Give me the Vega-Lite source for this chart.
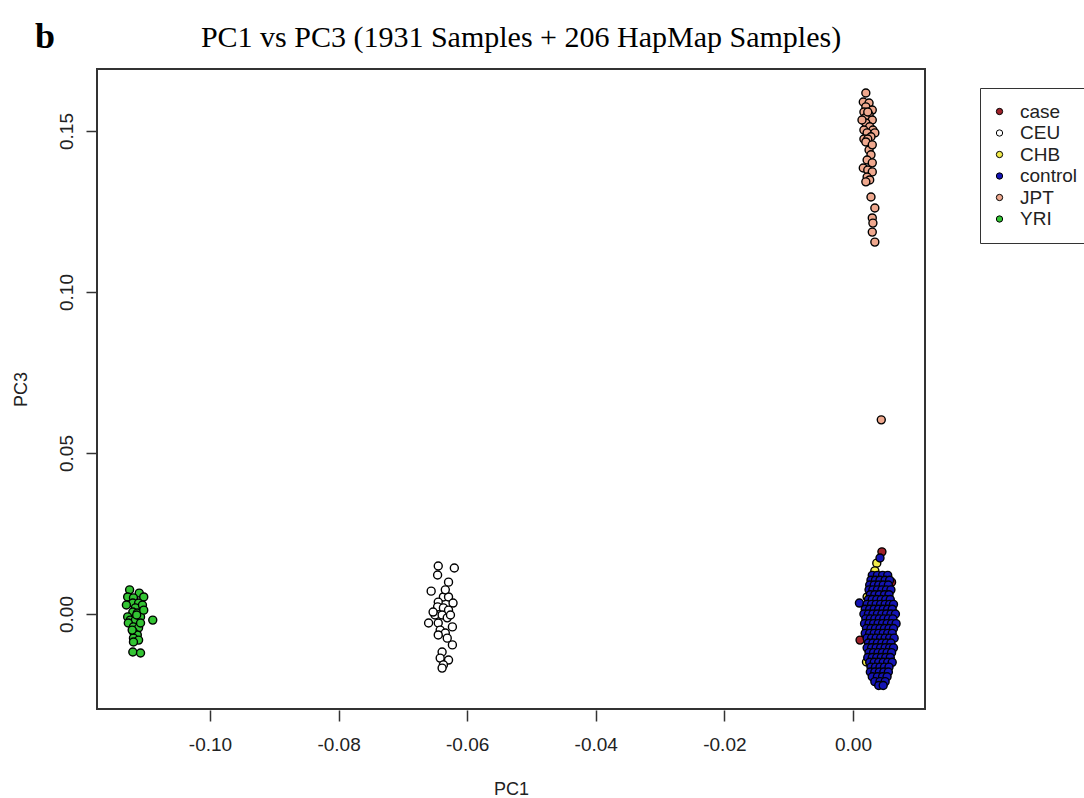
{
  "$schema": "https://vega.github.io/schema/vega-lite/v6.json",
  "width": 828,
  "height": 640,
  "autosize": {"type": "none"},
  "padding": {"left": 97, "top": 69, "right": 159, "bottom": 89},
  "background": "white",
  "config": {
    "view": {"stroke": "#333333", "strokeWidth": 2}
  },
  "layer": [
    {
      "data": {"values": [
        {"pc1": -0.1125, "pc3": 0.0075, "g": "YRI"},
        {"pc1": -0.1110, "pc3": 0.0065, "g": "YRI"},
        {"pc1": -0.1128, "pc3": 0.0053, "g": "YRI"},
        {"pc1": -0.1119, "pc3": 0.0050, "g": "YRI"},
        {"pc1": -0.1103, "pc3": 0.0053, "g": "YRI"},
        {"pc1": -0.1120, "pc3": 0.0034, "g": "YRI"},
        {"pc1": -0.1111, "pc3": 0.0034, "g": "YRI"},
        {"pc1": -0.1116, "pc3": 0.0019, "g": "YRI"},
        {"pc1": -0.1120, "pc3": 0.0006, "g": "YRI"},
        {"pc1": -0.1113, "pc3": 0.0003, "g": "YRI"},
        {"pc1": -0.1128, "pc3": -0.0009, "g": "YRI"},
        {"pc1": -0.1124, "pc3": -0.0019, "g": "YRI"},
        {"pc1": -0.1116, "pc3": -0.0019, "g": "YRI"},
        {"pc1": -0.1108, "pc3": -0.0009, "g": "YRI"},
        {"pc1": -0.1089, "pc3": -0.0019, "g": "YRI"},
        {"pc1": -0.1127, "pc3": -0.0028, "g": "YRI"},
        {"pc1": -0.1119, "pc3": -0.0040, "g": "YRI"},
        {"pc1": -0.1111, "pc3": -0.0043, "g": "YRI"},
        {"pc1": -0.1119, "pc3": -0.0056, "g": "YRI"},
        {"pc1": -0.1113, "pc3": -0.0065, "g": "YRI"},
        {"pc1": -0.1119, "pc3": -0.0075, "g": "YRI"},
        {"pc1": -0.1111, "pc3": -0.0081, "g": "YRI"},
        {"pc1": -0.1120, "pc3": -0.0118, "g": "YRI"},
        {"pc1": -0.1108, "pc3": -0.0121, "g": "YRI"},
        {"pc1": -0.1105, "pc3": 0.0028, "g": "YRI"},
        {"pc1": -0.1103, "pc3": 0.0012, "g": "YRI"},
        {"pc1": -0.1108, "pc3": -0.0028, "g": "YRI"},
        {"pc1": -0.1119, "pc3": -0.0087, "g": "YRI"},
        {"pc1": -0.1130, "pc3": 0.0028, "g": "YRI"},
        {"pc1": -0.1114, "pc3": -0.0003, "g": "YRI"},
        {"pc1": -0.1121, "pc3": -0.0050, "g": "YRI"},
        {"pc1": -0.0645, "pc3": 0.0149, "g": "CEU"},
        {"pc1": -0.0620, "pc3": 0.0143, "g": "CEU"},
        {"pc1": -0.0646, "pc3": 0.0121, "g": "CEU"},
        {"pc1": -0.0629, "pc3": 0.0099, "g": "CEU"},
        {"pc1": -0.0656, "pc3": 0.0071, "g": "CEU"},
        {"pc1": -0.0637, "pc3": 0.0053, "g": "CEU"},
        {"pc1": -0.0629, "pc3": 0.0053, "g": "CEU"},
        {"pc1": -0.0645, "pc3": 0.0037, "g": "CEU"},
        {"pc1": -0.0622, "pc3": 0.0034, "g": "CEU"},
        {"pc1": -0.0646, "pc3": 0.0022, "g": "CEU"},
        {"pc1": -0.0637, "pc3": 0.0019, "g": "CEU"},
        {"pc1": -0.0629, "pc3": 0.0012, "g": "CEU"},
        {"pc1": -0.0650, "pc3": -0.0003, "g": "CEU"},
        {"pc1": -0.0639, "pc3": -0.0003, "g": "CEU"},
        {"pc1": -0.0631, "pc3": -0.0012, "g": "CEU"},
        {"pc1": -0.0660, "pc3": -0.0028, "g": "CEU"},
        {"pc1": -0.0645, "pc3": -0.0028, "g": "CEU"},
        {"pc1": -0.0623, "pc3": -0.0040, "g": "CEU"},
        {"pc1": -0.0642, "pc3": -0.0050, "g": "CEU"},
        {"pc1": -0.0634, "pc3": -0.0059, "g": "CEU"},
        {"pc1": -0.0645, "pc3": -0.0065, "g": "CEU"},
        {"pc1": -0.0631, "pc3": -0.0075, "g": "CEU"},
        {"pc1": -0.0623, "pc3": -0.0096, "g": "CEU"},
        {"pc1": -0.0639, "pc3": -0.0118, "g": "CEU"},
        {"pc1": -0.0642, "pc3": -0.0137, "g": "CEU"},
        {"pc1": -0.0629, "pc3": -0.0143, "g": "CEU"},
        {"pc1": -0.0637, "pc3": -0.0158, "g": "CEU"},
        {"pc1": -0.0639, "pc3": -0.0168, "g": "CEU"},
        {"pc1": -0.0634, "pc3": 0.0075, "g": "CEU"},
        {"pc1": -0.0653, "pc3": 0.0006, "g": "CEU"},
        {"pc1": -0.0626, "pc3": -0.0003, "g": "CEU"},
        {"pc1": 0.0020, "pc3": 0.1618, "g": "JPT"},
        {"pc1": 0.0016, "pc3": 0.1590, "g": "JPT"},
        {"pc1": 0.0025, "pc3": 0.1587, "g": "JPT"},
        {"pc1": 0.0020, "pc3": 0.1575, "g": "JPT"},
        {"pc1": 0.0030, "pc3": 0.1565, "g": "JPT"},
        {"pc1": 0.0017, "pc3": 0.1559, "g": "JPT"},
        {"pc1": 0.0025, "pc3": 0.1550, "g": "JPT"},
        {"pc1": 0.0019, "pc3": 0.1541, "g": "JPT"},
        {"pc1": 0.0030, "pc3": 0.1534, "g": "JPT"},
        {"pc1": 0.0020, "pc3": 0.1525, "g": "JPT"},
        {"pc1": 0.0026, "pc3": 0.1513, "g": "JPT"},
        {"pc1": 0.0017, "pc3": 0.1503, "g": "JPT"},
        {"pc1": 0.0031, "pc3": 0.1503, "g": "JPT"},
        {"pc1": 0.0022, "pc3": 0.1494, "g": "JPT"},
        {"pc1": 0.0034, "pc3": 0.1494, "g": "JPT"},
        {"pc1": 0.0028, "pc3": 0.1482, "g": "JPT"},
        {"pc1": 0.0017, "pc3": 0.1475, "g": "JPT"},
        {"pc1": 0.0023, "pc3": 0.1475, "g": "JPT"},
        {"pc1": 0.0025, "pc3": 0.1441, "g": "JPT"},
        {"pc1": 0.0028, "pc3": 0.1426, "g": "JPT"},
        {"pc1": 0.0022, "pc3": 0.1410, "g": "JPT"},
        {"pc1": 0.0030, "pc3": 0.1401, "g": "JPT"},
        {"pc1": 0.0016, "pc3": 0.1385, "g": "JPT"},
        {"pc1": 0.0023, "pc3": 0.1379, "g": "JPT"},
        {"pc1": 0.0030, "pc3": 0.1373, "g": "JPT"},
        {"pc1": 0.0022, "pc3": 0.1357, "g": "JPT"},
        {"pc1": 0.0026, "pc3": 0.1348, "g": "JPT"},
        {"pc1": 0.0020, "pc3": 0.1342, "g": "JPT"},
        {"pc1": 0.0028, "pc3": 0.1295, "g": "JPT"},
        {"pc1": 0.0034, "pc3": 0.1261, "g": "JPT"},
        {"pc1": 0.0030, "pc3": 0.1230, "g": "JPT"},
        {"pc1": 0.0031, "pc3": 0.1214, "g": "JPT"},
        {"pc1": 0.0030, "pc3": 0.1186, "g": "JPT"},
        {"pc1": 0.0034, "pc3": 0.1155, "g": "JPT"},
        {"pc1": 0.0020, "pc3": 0.1466, "g": "JPT"},
        {"pc1": 0.0030, "pc3": 0.1457, "g": "JPT"},
        {"pc1": 0.0014, "pc3": 0.1534, "g": "JPT"},
        {"pc1": 0.0023, "pc3": 0.1559, "g": "JPT"},
        {"pc1": 0.0044, "pc3": 0.0603, "g": "JPT"},
        {"pc1": 0.0045, "pc3": 0.0193, "g": "case"},
        {"pc1": 0.0060, "pc3": 0.0099, "g": "case"},
        {"pc1": 0.0011, "pc3": -0.0081, "g": "case"},
        {"pc1": 0.0040, "pc3": 0.0050, "g": "case"},
        {"pc1": 0.0045, "pc3": 0.0000, "g": "case"},
        {"pc1": 0.0035, "pc3": -0.0050, "g": "case"},
        {"pc1": 0.0050, "pc3": -0.0100, "g": "case"},
        {"pc1": 0.0040, "pc3": -0.0150, "g": "case"},
        {"pc1": 0.0055, "pc3": 0.0020, "g": "case"},
        {"pc1": 0.0030, "pc3": -0.0120, "g": "case"},
        {"pc1": 0.0037, "pc3": 0.0158, "g": "CHB"},
        {"pc1": 0.0034, "pc3": 0.0134, "g": "CHB"},
        {"pc1": 0.0022, "pc3": 0.0053, "g": "CHB"},
        {"pc1": 0.0024, "pc3": -0.0106, "g": "CHB"},
        {"pc1": 0.0021, "pc3": -0.0149, "g": "CHB"},
        {"pc1": 0.0040, "pc3": 0.0030, "g": "CHB"},
        {"pc1": 0.0045, "pc3": -0.0080, "g": "CHB"},
        {"pc1": 0.0042, "pc3": 0.0174, "g": "control"},
        {"pc1": 0.0030, "pc3": 0.0120, "g": "control"},
        {"pc1": 0.0038, "pc3": 0.0120, "g": "control"},
        {"pc1": 0.0046, "pc3": 0.0120, "g": "control"},
        {"pc1": 0.0054, "pc3": 0.0120, "g": "control"},
        {"pc1": 0.0028, "pc3": 0.0105, "g": "control"},
        {"pc1": 0.0035, "pc3": 0.0105, "g": "control"},
        {"pc1": 0.0042, "pc3": 0.0105, "g": "control"},
        {"pc1": 0.0050, "pc3": 0.0105, "g": "control"},
        {"pc1": 0.0057, "pc3": 0.0105, "g": "control"},
        {"pc1": 0.0026, "pc3": 0.0090, "g": "control"},
        {"pc1": 0.0033, "pc3": 0.0090, "g": "control"},
        {"pc1": 0.0040, "pc3": 0.0090, "g": "control"},
        {"pc1": 0.0047, "pc3": 0.0090, "g": "control"},
        {"pc1": 0.0055, "pc3": 0.0090, "g": "control"},
        {"pc1": 0.0025, "pc3": 0.0075, "g": "control"},
        {"pc1": 0.0031, "pc3": 0.0075, "g": "control"},
        {"pc1": 0.0038, "pc3": 0.0075, "g": "control"},
        {"pc1": 0.0045, "pc3": 0.0075, "g": "control"},
        {"pc1": 0.0052, "pc3": 0.0075, "g": "control"},
        {"pc1": 0.0059, "pc3": 0.0075, "g": "control"},
        {"pc1": 0.0027, "pc3": 0.0060, "g": "control"},
        {"pc1": 0.0034, "pc3": 0.0060, "g": "control"},
        {"pc1": 0.0041, "pc3": 0.0060, "g": "control"},
        {"pc1": 0.0049, "pc3": 0.0060, "g": "control"},
        {"pc1": 0.0056, "pc3": 0.0060, "g": "control"},
        {"pc1": 0.0024, "pc3": 0.0045, "g": "control"},
        {"pc1": 0.0030, "pc3": 0.0045, "g": "control"},
        {"pc1": 0.0037, "pc3": 0.0045, "g": "control"},
        {"pc1": 0.0044, "pc3": 0.0045, "g": "control"},
        {"pc1": 0.0051, "pc3": 0.0045, "g": "control"},
        {"pc1": 0.0058, "pc3": 0.0045, "g": "control"},
        {"pc1": 0.0010, "pc3": 0.0034, "g": "control"},
        {"pc1": 0.0022, "pc3": 0.0030, "g": "control"},
        {"pc1": 0.0029, "pc3": 0.0030, "g": "control"},
        {"pc1": 0.0036, "pc3": 0.0030, "g": "control"},
        {"pc1": 0.0043, "pc3": 0.0030, "g": "control"},
        {"pc1": 0.0050, "pc3": 0.0030, "g": "control"},
        {"pc1": 0.0057, "pc3": 0.0030, "g": "control"},
        {"pc1": 0.0063, "pc3": 0.0030, "g": "control"},
        {"pc1": 0.0019, "pc3": 0.0015, "g": "control"},
        {"pc1": 0.0026, "pc3": 0.0015, "g": "control"},
        {"pc1": 0.0033, "pc3": 0.0015, "g": "control"},
        {"pc1": 0.0040, "pc3": 0.0015, "g": "control"},
        {"pc1": 0.0047, "pc3": 0.0015, "g": "control"},
        {"pc1": 0.0054, "pc3": 0.0015, "g": "control"},
        {"pc1": 0.0061, "pc3": 0.0015, "g": "control"},
        {"pc1": 0.0017, "pc3": 0.0000, "g": "control"},
        {"pc1": 0.0024, "pc3": 0.0000, "g": "control"},
        {"pc1": 0.0031, "pc3": 0.0000, "g": "control"},
        {"pc1": 0.0038, "pc3": 0.0000, "g": "control"},
        {"pc1": 0.0045, "pc3": 0.0000, "g": "control"},
        {"pc1": 0.0052, "pc3": 0.0000, "g": "control"},
        {"pc1": 0.0059, "pc3": 0.0000, "g": "control"},
        {"pc1": 0.0066, "pc3": 0.0000, "g": "control"},
        {"pc1": 0.0020, "pc3": -0.0015, "g": "control"},
        {"pc1": 0.0027, "pc3": -0.0015, "g": "control"},
        {"pc1": 0.0034, "pc3": -0.0015, "g": "control"},
        {"pc1": 0.0041, "pc3": -0.0015, "g": "control"},
        {"pc1": 0.0048, "pc3": -0.0015, "g": "control"},
        {"pc1": 0.0055, "pc3": -0.0015, "g": "control"},
        {"pc1": 0.0062, "pc3": -0.0015, "g": "control"},
        {"pc1": 0.0018, "pc3": -0.0030, "g": "control"},
        {"pc1": 0.0025, "pc3": -0.0030, "g": "control"},
        {"pc1": 0.0032, "pc3": -0.0030, "g": "control"},
        {"pc1": 0.0039, "pc3": -0.0030, "g": "control"},
        {"pc1": 0.0046, "pc3": -0.0030, "g": "control"},
        {"pc1": 0.0053, "pc3": -0.0030, "g": "control"},
        {"pc1": 0.0060, "pc3": -0.0030, "g": "control"},
        {"pc1": 0.0067, "pc3": -0.0030, "g": "control"},
        {"pc1": 0.0021, "pc3": -0.0045, "g": "control"},
        {"pc1": 0.0028, "pc3": -0.0045, "g": "control"},
        {"pc1": 0.0035, "pc3": -0.0045, "g": "control"},
        {"pc1": 0.0042, "pc3": -0.0045, "g": "control"},
        {"pc1": 0.0049, "pc3": -0.0045, "g": "control"},
        {"pc1": 0.0056, "pc3": -0.0045, "g": "control"},
        {"pc1": 0.0063, "pc3": -0.0045, "g": "control"},
        {"pc1": 0.0019, "pc3": -0.0060, "g": "control"},
        {"pc1": 0.0026, "pc3": -0.0060, "g": "control"},
        {"pc1": 0.0033, "pc3": -0.0060, "g": "control"},
        {"pc1": 0.0040, "pc3": -0.0060, "g": "control"},
        {"pc1": 0.0047, "pc3": -0.0060, "g": "control"},
        {"pc1": 0.0054, "pc3": -0.0060, "g": "control"},
        {"pc1": 0.0061, "pc3": -0.0060, "g": "control"},
        {"pc1": 0.0022, "pc3": -0.0075, "g": "control"},
        {"pc1": 0.0029, "pc3": -0.0075, "g": "control"},
        {"pc1": 0.0036, "pc3": -0.0075, "g": "control"},
        {"pc1": 0.0043, "pc3": -0.0075, "g": "control"},
        {"pc1": 0.0050, "pc3": -0.0075, "g": "control"},
        {"pc1": 0.0057, "pc3": -0.0075, "g": "control"},
        {"pc1": 0.0064, "pc3": -0.0075, "g": "control"},
        {"pc1": 0.0024, "pc3": -0.0090, "g": "control"},
        {"pc1": 0.0031, "pc3": -0.0090, "g": "control"},
        {"pc1": 0.0038, "pc3": -0.0090, "g": "control"},
        {"pc1": 0.0045, "pc3": -0.0090, "g": "control"},
        {"pc1": 0.0052, "pc3": -0.0090, "g": "control"},
        {"pc1": 0.0059, "pc3": -0.0090, "g": "control"},
        {"pc1": 0.0022, "pc3": -0.0105, "g": "control"},
        {"pc1": 0.0029, "pc3": -0.0105, "g": "control"},
        {"pc1": 0.0036, "pc3": -0.0105, "g": "control"},
        {"pc1": 0.0043, "pc3": -0.0105, "g": "control"},
        {"pc1": 0.0050, "pc3": -0.0105, "g": "control"},
        {"pc1": 0.0057, "pc3": -0.0105, "g": "control"},
        {"pc1": 0.0063, "pc3": -0.0105, "g": "control"},
        {"pc1": 0.0025, "pc3": -0.0120, "g": "control"},
        {"pc1": 0.0032, "pc3": -0.0120, "g": "control"},
        {"pc1": 0.0039, "pc3": -0.0120, "g": "control"},
        {"pc1": 0.0046, "pc3": -0.0120, "g": "control"},
        {"pc1": 0.0053, "pc3": -0.0120, "g": "control"},
        {"pc1": 0.0060, "pc3": -0.0120, "g": "control"},
        {"pc1": 0.0023, "pc3": -0.0135, "g": "control"},
        {"pc1": 0.0030, "pc3": -0.0135, "g": "control"},
        {"pc1": 0.0037, "pc3": -0.0135, "g": "control"},
        {"pc1": 0.0044, "pc3": -0.0135, "g": "control"},
        {"pc1": 0.0051, "pc3": -0.0135, "g": "control"},
        {"pc1": 0.0058, "pc3": -0.0135, "g": "control"},
        {"pc1": 0.0026, "pc3": -0.0150, "g": "control"},
        {"pc1": 0.0033, "pc3": -0.0150, "g": "control"},
        {"pc1": 0.0040, "pc3": -0.0150, "g": "control"},
        {"pc1": 0.0047, "pc3": -0.0150, "g": "control"},
        {"pc1": 0.0054, "pc3": -0.0150, "g": "control"},
        {"pc1": 0.0061, "pc3": -0.0150, "g": "control"},
        {"pc1": 0.0028, "pc3": -0.0165, "g": "control"},
        {"pc1": 0.0035, "pc3": -0.0165, "g": "control"},
        {"pc1": 0.0042, "pc3": -0.0165, "g": "control"},
        {"pc1": 0.0049, "pc3": -0.0165, "g": "control"},
        {"pc1": 0.0056, "pc3": -0.0165, "g": "control"},
        {"pc1": 0.0027, "pc3": -0.0180, "g": "control"},
        {"pc1": 0.0034, "pc3": -0.0180, "g": "control"},
        {"pc1": 0.0041, "pc3": -0.0180, "g": "control"},
        {"pc1": 0.0048, "pc3": -0.0180, "g": "control"},
        {"pc1": 0.0055, "pc3": -0.0180, "g": "control"},
        {"pc1": 0.0030, "pc3": -0.0195, "g": "control"},
        {"pc1": 0.0038, "pc3": -0.0195, "g": "control"},
        {"pc1": 0.0046, "pc3": -0.0195, "g": "control"},
        {"pc1": 0.0053, "pc3": -0.0195, "g": "control"},
        {"pc1": 0.0034, "pc3": -0.0210, "g": "control"},
        {"pc1": 0.0042, "pc3": -0.0210, "g": "control"},
        {"pc1": 0.0050, "pc3": -0.0210, "g": "control"},
        {"pc1": 0.0040, "pc3": -0.0222, "g": "control"},
        {"pc1": 0.0047, "pc3": -0.0222, "g": "control"}
      ]},
      "mark": {"type": "point", "shape": "circle", "filled": true, "size": 64, "stroke": "black", "strokeWidth": 1.4, "opacity": 1},
      "encoding": {
        "x": {
          "field": "pc1", "type": "quantitative",
          "scale": {"domain": [-0.11757, 0.0112], "nice": false, "zero": false},
          "axis": {
            "title": "PC1", "values": [-0.1, -0.08, -0.06, -0.04, -0.02, 0], "format": ".2f",
            "labelExpr": "replace(datum.label, '\u2212', '-')",
            "grid": false, "domain": false, "tickSize": 11, "tickColor": "#333333", "tickWidth": 1.5, "offset": 1,
            "labelFont": "Liberation Sans", "labelFontSize": 19, "labelColor": "#222222", "labelPadding": 14,
            "titleFont": "Liberation Sans", "titleFontSize": 18, "titleFontWeight": "normal", "titleColor": "#222222", "titlePadding": 26
          }
        },
        "y": {
          "field": "pc3", "type": "quantitative",
          "scale": {"domain": [-0.0295, 0.16925], "nice": false, "zero": false},
          "axis": {
            "title": "PC3", "values": [0, 0.05, 0.1, 0.15], "format": ".2f",
            "labelAngle": -90, "labelAlign": "center", "labelBaseline": "bottom",
            "grid": false, "domain": false, "tickSize": 11, "tickColor": "#333333", "tickWidth": 1.5,
            "labelFont": "Liberation Sans", "labelFontSize": 19, "labelColor": "#222222", "labelPadding": 10,
            "titleFont": "Liberation Sans", "titleFontSize": 18, "titleFontWeight": "normal", "titleColor": "#222222", "titlePadding": 27
          }
        },
        "fill": {
          "field": "g", "type": "nominal",
          "scale": {"domain": ["case", "CEU", "CHB", "control", "JPT", "YRI"], "range": ["#A0222A", "#FFFFFF", "#F2EB4A", "#1414B4", "#EFA88E", "#33C433"]},
          "legend": {
            "title": null, "orient": "none", "legendX": 883, "legendY": 19,
            "strokeColor": "#333333", "fillColor": "white", "padding": 14,
            "symbolType": "circle", "symbolSize": 40, "symbolStrokeColor": "black", "symbolStrokeWidth": 1, "symbolOffset": -4,
            "labelFont": "Liberation Sans", "labelFontSize": 19, "labelColor": "#222222", "labelOffset": 11, "rowPadding": 1.5
          }
        }
      }
    },
    {
      "data": {"values": [{"label": "PC1 vs PC3 (1931 Samples + 206 HapMap Samples)"}]},
      "mark": {"type": "text", "x": 424, "y": -22, "align": "center", "baseline": "alphabetic", "font": "Liberation Serif", "fontWeight": "normal", "fontSize": 30, "color": "black"},
      "encoding": {"text": {"field": "label", "type": "nominal"}}
    },
    {
      "data": {"values": [{"label": "b"}]},
      "mark": {"type": "text", "x": -52, "y": -21, "align": "center", "baseline": "alphabetic", "font": "Liberation Serif", "fontWeight": "bold", "fontSize": 36, "color": "black"},
      "encoding": {"text": {"field": "label", "type": "nominal"}}
    }
  ]
}
